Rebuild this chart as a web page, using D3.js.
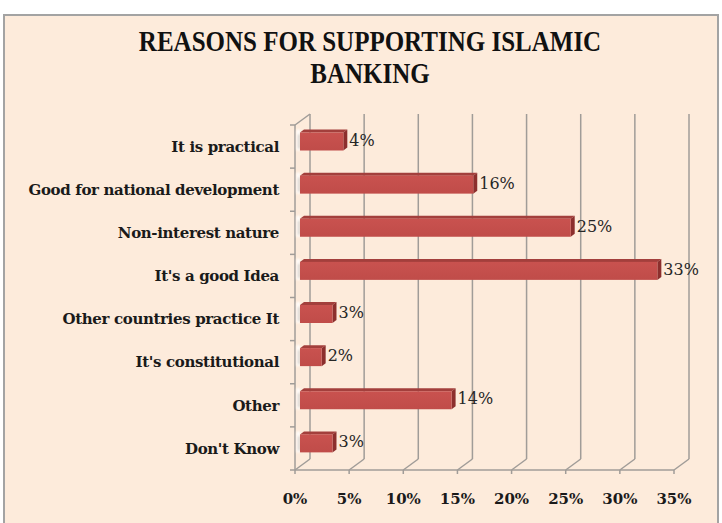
<!DOCTYPE html>
<html>
<head>
<meta charset="utf-8">
<script src="https://cdn.jsdelivr.net/npm/d3@7"></script>
<style>
  html, body { margin: 0; padding: 0; background: #ffffff; }
  svg { display: block; }
</style>
</head>
<body>
<svg id="chart" width="722" height="523"></svg>
<script>
// Survey responses: reasons for supporting Islamic banking (percent of respondents)
const categories = [
  "It is practical",
  "Good for national development",
  "Non-interest nature",
  "It's a good Idea",
  "Other countries practice It",
  "It's constitutional",
  "Other",
  "Don't Know"
];
const values = [4, 16, 25, 33, 3, 2, 14, 3];
const tickValues = [0, 5, 10, 15, 20, 25, 30, 35];
const titleLines = ["REASONS FOR SUPPORTING ISLAMIC", "BANKING"];

const svg = d3.select("#chart");
const serif = "'Liberation Serif', 'DejaVu Serif', serif";
const wideSerif = "'DejaVu Serif', 'Liberation Serif', serif";

// chart area frame
svg.append("rect")
  .attr("x", 4).attr("y", 15).attr("width", 714).attr("height", 520)
  .attr("fill", "#fdebdb").attr("stroke", "#a3a3a3").attr("stroke-width", 2);

// 3-D box geometry: front plane, wall depth offset, bar plane offset
const depth = { dx: 15, dy: -11 };
const barDepth = { dx: 5, dy: -4 };
const x = d3.scaleLinear().domain([0, 35]).range([295, 674]);
const y = d3.scaleBand().domain(categories).range([125, 470]).padding(0);
const floorY = 470;

const defs = svg.append("defs");
const faceGrad = defs.append("linearGradient").attr("id", "face")
  .attr("x1", 0).attr("y1", 0).attr("x2", 0).attr("y2", 1);
faceGrad.append("stop").attr("offset", "0%").attr("stop-color", "#c9524f");
faceGrad.append("stop").attr("offset", "100%").attr("stop-color", "#c04c49");
const blur = defs.append("filter").attr("id", "soft")
  .attr("x", "-100%").attr("y", "-50%").attr("width", "300%").attr("height", "200%");
blur.append("feGaussianBlur").attr("stdDeviation", 1.3);

const wall = svg.append("g")
  .attr("stroke", "#a09c98").attr("stroke-width", 1.5).attr("fill", "none");

// back-wall gridlines
wall.selectAll("line.grid").data(tickValues).join("line")
  .attr("class", "grid")
  .attr("x1", d => x(d) + depth.dx).attr("x2", d => x(d) + depth.dx)
  .attr("y1", y.range()[0] + depth.dy).attr("y2", floorY + depth.dy);

// floor diagonals
wall.selectAll("line.floor").data(tickValues).join("line")
  .attr("class", "floor")
  .attr("x1", d => x(d)).attr("y1", floorY)
  .attr("x2", d => x(d) + depth.dx).attr("y2", floorY + depth.dy);

// left wall: front edge and top diagonal
wall.append("line")
  .attr("x1", x(0)).attr("x2", x(0)).attr("y1", y.range()[0]).attr("y2", floorY);
wall.append("line")
  .attr("x1", x(0)).attr("y1", y.range()[0])
  .attr("x2", x(0) + depth.dx).attr("y2", y.range()[0] + depth.dy);

// front baseline with ticks
wall.append("line")
  .attr("x1", x(0)).attr("x2", x(35)).attr("y1", floorY).attr("y2", floorY);
wall.selectAll("line.xtick").data(tickValues).join("line")
  .attr("class", "xtick")
  .attr("x1", d => x(d)).attr("x2", d => x(d))
  .attr("y1", floorY).attr("y2", floorY + 4);

// category ticks on the left edge
const bounds = categories.map(c => y(c)).concat([y.range()[1]]);
wall.selectAll("line.ytick").data(bounds).join("line")
  .attr("class", "ytick")
  .attr("x1", x(0) - 5).attr("x2", x(0))
  .attr("y1", d => d).attr("y2", d => d);

// bars
const bx = v => x(v) + barDepth.dx;
const faceH = 18, topH = 3, sideW = 4;
const bars = svg.append("g");
categories.forEach((c, i) => {
  const v = values[i];
  const x0 = bx(0), x1 = bx(v);
  const y0 = y(c) + 7.5;
  const g = bars.append("g");
  // soft shadow where the bar meets the left wall
  g.append("rect")
    .attr("x", x(0) + 1.5).attr("y", y0 - 3).attr("width", 3.5).attr("height", faceH + 3)
    .attr("fill", "#ffffff").attr("opacity", 0.9).attr("filter", "url(#soft)");
  g.append("rect")
    .attr("x", x(0) + 3).attr("y", y0 + 2).attr("width", 2).attr("height", faceH - 4)
    .attr("fill", "#b9b2aa").attr("opacity", 0.6).attr("filter", "url(#soft)");
  // top face
  g.append("polygon")
    .attr("points", [[x0, y0], [x0 + sideW, y0 - topH], [x1 + sideW, y0 - topH], [x1, y0]].join(" "))
    .attr("fill", "#a33f3c");
  // side face
  g.append("polygon")
    .attr("points", [[x1, y0], [x1 + sideW, y0 - topH], [x1 + sideW, y0 + faceH - topH], [x1, y0 + faceH]].join(" "))
    .attr("fill", "#8c2f2d");
  // front face
  g.append("rect")
    .attr("x", x0).attr("y", y0).attr("width", x1 - x0).attr("height", faceH)
    .attr("fill", "url(#face)");
  // value label
  g.append("text")
    .attr("x", x1 + 6).attr("y", y0 + faceH / 2 - 1.5)
    .attr("dy", "0.35em")
    .attr("font-family", wideSerif).attr("font-size", 16)
    .attr("fill", "#262626")
    .text(v + "%");
});

// category labels
svg.append("g").selectAll("text").data(categories).join("text")
  .attr("x", 279).attr("y", c => y(c) + y.bandwidth() / 2)
  .attr("dy", "0.35em")
  .attr("text-anchor", "end")
  .attr("font-family", wideSerif).attr("font-weight", "bold").attr("font-size", 15)
  .attr("letter-spacing", -0.35)
  .attr("fill", "#1a1a1a")
  .text(c => c);

// x tick labels
svg.append("g").selectAll("text").data(tickValues).join("text")
  .attr("x", d => x(d)).attr("y", 504)
  .attr("text-anchor", "middle")
  .attr("font-family", wideSerif).attr("font-weight", "bold").attr("font-size", 15)
  .attr("fill", "#1a1a1a")
  .text(d => d + "%");

// title (tall, narrow bold serif)
svg.append("g").selectAll("text").data(titleLines).join("text")
  .attr("transform", (d, i) => `translate(370,${51 + i * 32}) scale(1,1.2)`)
  .attr("text-anchor", "middle")
  .attr("font-family", serif).attr("font-weight", "bold").attr("font-size", 25)
  .attr("fill", "#111111")
  .text(d => d);
</script>
</body>
</html>
